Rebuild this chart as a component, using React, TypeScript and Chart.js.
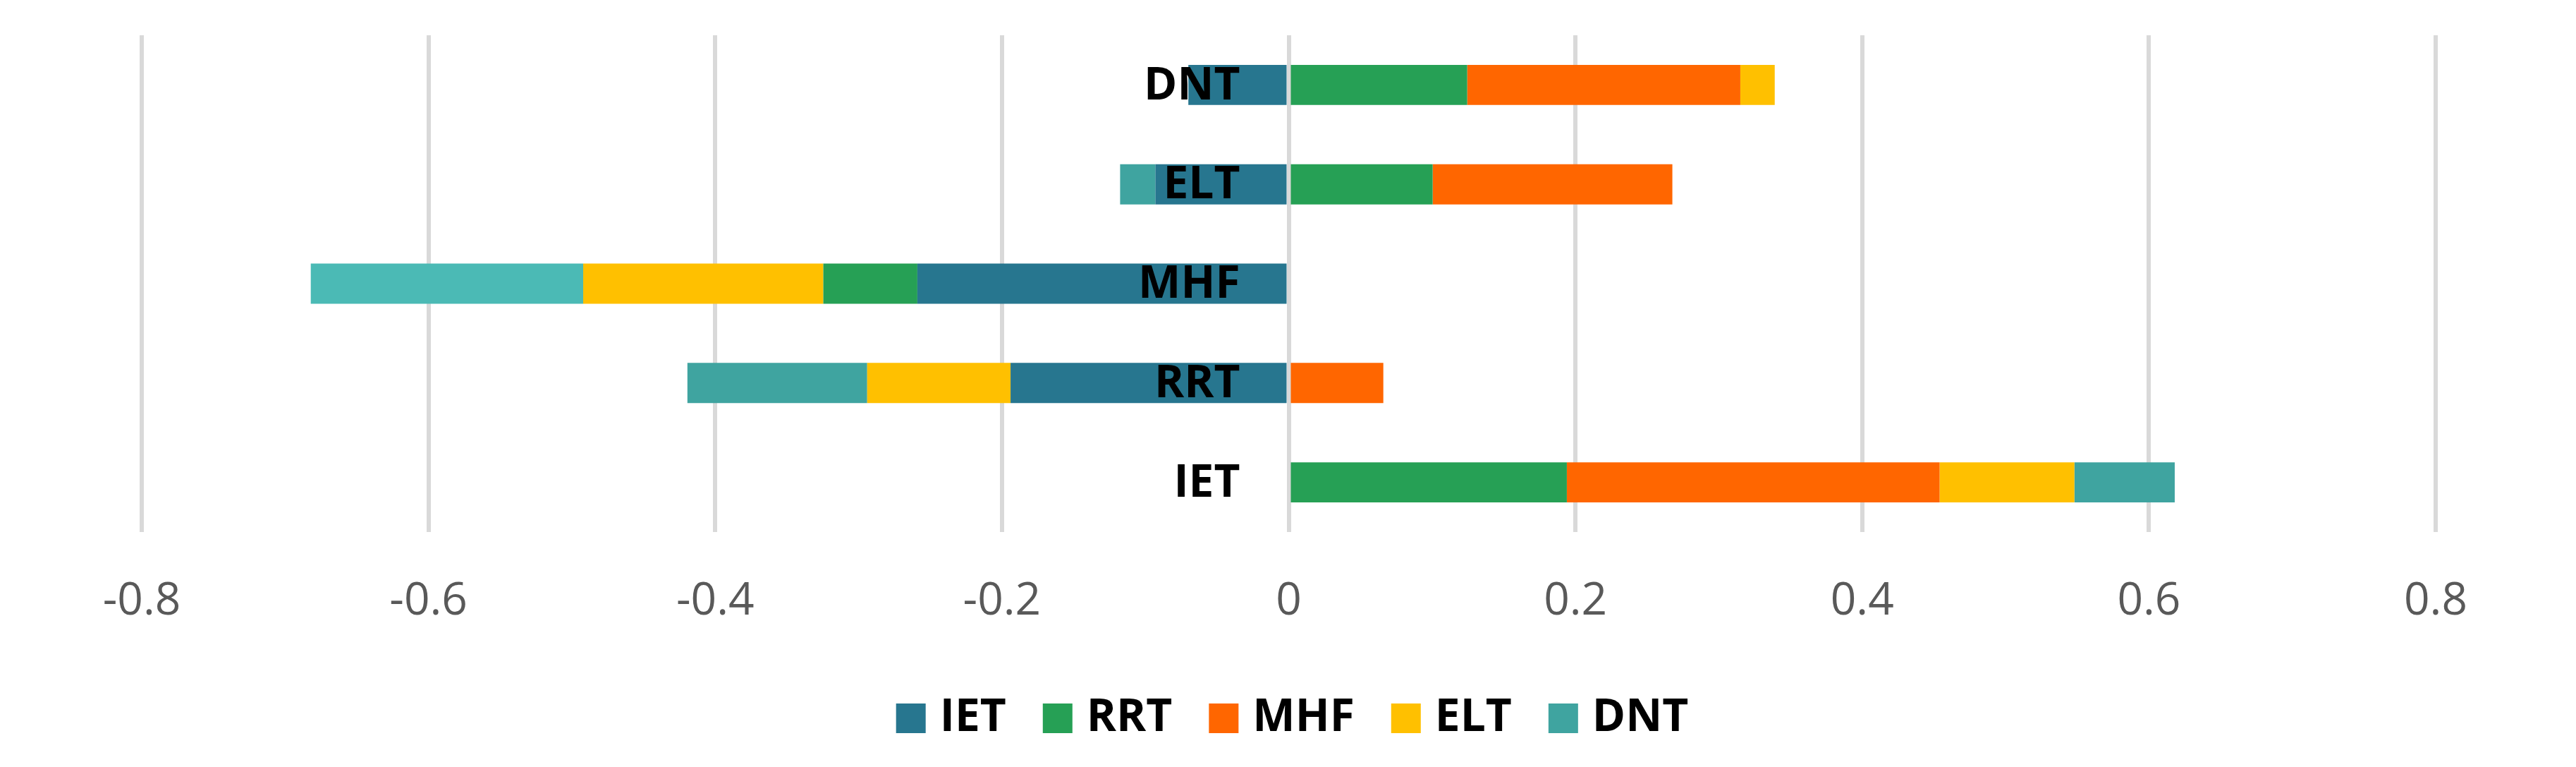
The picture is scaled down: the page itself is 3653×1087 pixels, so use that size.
import React, { useEffect, useRef } from "react";
import { Chart, registerables } from "chart.js";

Chart.register(...registerables);

const categories = ["DNT", "ELT", "MHF", "RRT", "IET"];
const seriesNames = ["IET", "RRT", "MHF", "ELT", "DNT"];
const ietValues = [-0.07, -0.093, -0.259, -0.194, 0];
const rrtValues = [0.1245, 0.1004, -0.0656, 0, 0.194];
const mhfValues = [0.1905, 0.1672, 0, 0.066, 0.26];
const eltValues = [0.024, 0, -0.1675, -0.1, 0.094];
const dntValues = [0, -0.0246, -0.19, -0.1254, 0.07];
const xTicks = [-0.8, -0.6, -0.4, -0.2, 0, 0.2, 0.4, 0.6, 0.8];

const seriesColors = ["#27768F", "#26A055", "#FF6600", "#FFC000", "#3FA4A0"];
const dntBarColors = ["#3FA4A0", "#3FA4A0", "#4BBAB5", "#3FA4A0", "#3FA4A0"];

const FONT = "'Open Sans', 'Liberation Sans', sans-serif";

export default function App() {
  const ref = useRef<HTMLCanvasElement | null>(null);

  useEffect(() => {
    const canvas = ref.current;
    if (!canvas) return;
    const values = [ietValues, rrtValues, mhfValues, eltValues, dntValues];

    const catLabelPlugin = {
      id: "catLabels",
      afterDatasetsDraw(chart: any) {
        const { ctx, scales } = chart;
        const x0 = scales.x.getPixelForValue(0) - 69;
        ctx.save();
        ctx.font = `bold 64px ${FONT}`;
        ctx.fillStyle = "#000000";
        ctx.textAlign = "right";
        ctx.textBaseline = "middle";
        categories.forEach((c, i) => {
          const y = scales.y.getPixelForValue(i);
          ctx.fillText(c, x0, y + 2);
        });
        ctx.restore();
      },
    };

    const legendPlugin = {
      id: "customLegend",
      afterDraw(chart: any) {
        const { ctx, width } = chart;
        ctx.save();
        ctx.font = `bold 64px ${FONT}`;
        ctx.textBaseline = "middle";
        ctx.textAlign = "left";
        const box = 42;
        const gapBoxText = 20;
        const gapItems = 52;
        const widths = seriesNames.map((n) => box + gapBoxText + ctx.measureText(n).width);
        const total = widths.reduce((a, b) => a + b, 0) + gapItems * (seriesNames.length - 1);
        let x = width / 2 - total / 2 + 6;
        const cy = 1018;
        seriesNames.forEach((n, i) => {
          ctx.fillStyle = seriesColors[i];
          ctx.fillRect(x, cy - box / 2, box, box);
          ctx.fillStyle = "#000000";
          ctx.fillText(n, x + box + gapBoxText, cy);
          x += widths[i] + gapItems;
        });
        ctx.restore();
      },
    };

    const chart = new Chart(canvas, {
      type: "bar",
      data: {
        labels: categories,
        datasets: seriesNames.map((name, i) => ({
          label: name,
          data: values[i],
          backgroundColor: i === 4 ? dntBarColors : seriesColors[i],
          borderWidth: 0,
          categoryPercentage: 1,
          barPercentage: 0.404,
        })),
      },
      options: {
        indexAxis: "y",
        animation: false,
        responsive: false,
        maintainAspectRatio: false,
        devicePixelRatio: 1,
        layout: { padding: { left: 201, right: 199, top: 50, bottom: 0 } },
        plugins: {
          legend: { display: false },
          tooltip: { enabled: false },
        },
        scales: {
          x: {
            type: "linear",
            stacked: true,
            min: -0.8,
            max: 0.8,
            afterBuildTicks: (scale: any) => {
              scale.ticks = xTicks.map((v) => ({ value: v }));
            },
            afterFit: (scale: any) => {
              scale.height = 333;
            },
            grid: { color: "#D9D9D9", lineWidth: 6, drawTicks: false },
            border: { display: false },
            ticks: {
              padding: 60,
              color: "#595959",
              font: { family: FONT, size: 64 },
              callback: (v: any) => String(Math.round(Number(v) * 10) / 10),
            },
          },
          y: {
            stacked: true,
            display: false,
            grid: { display: false },
          },
        },
      } as any,
      plugins: [catLabelPlugin, legendPlugin],
    });

    return () => chart.destroy();
  }, []);

  return (
    <div style={{ position: "fixed", left: 0, top: 0, width: 3653, height: 1087, background: "#fff" }}>
      <canvas ref={ref} width={3653} height={1087} style={{ width: 3653, height: 1087 }} />
    </div>
  );
}
